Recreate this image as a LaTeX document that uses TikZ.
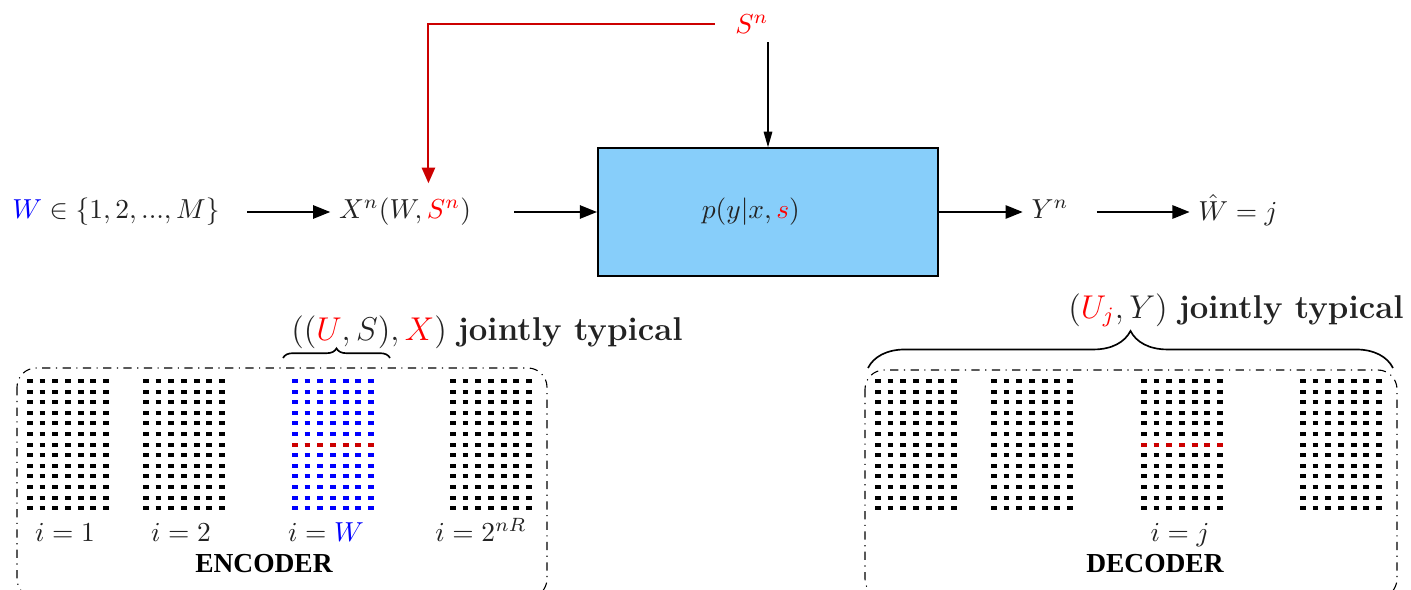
\documentclass[tikz,border=0pt]{standalone}
\usepackage{amsmath,amssymb}
\usepackage{fontspec}
\usepackage{xcolor}
\usepackage{tikz}
\usetikzlibrary{calc,arrows.meta,positioning,decorations.pathreplacing}
\newfontfamily\timesbf{Liberation Serif}
\definecolor{chanBlue}{RGB}{135,206,250}
\definecolor{cbBlue}{RGB}{0,0,255}
\definecolor{cbRed}{RGB}{204,0,0}
\definecolor{txtGray}{RGB}{35,35,35}

\tikzset{
  lbl/.style={text=txtGray, inner sep=3pt},
  rowlbl/.style={text=txtGray, text height=7.5pt, text depth=2.5pt, inner sep=3pt},
  flow/.style={-{Triangle[length=2.2mm,width=1.7mm]}, line width=0.75pt},
  sideflow/.style={-{Triangle[length=2mm,width=1.1mm]}, line width=0.5pt},
  stateflow/.style={-{Triangle[length=2mm,width=1.7mm]}, line width=0.7pt, cbRed},
  cbrow/.style={line width=1.5pt, dash pattern=on 0.074cm off 0.0885cm},
  coderbox/.style={dash dot, rounded corners=7pt, line width=0.4pt},
  typbrace/.style={decorate, line width=0.6pt},
}

% one codebook: 13 rows of 7 codewords
\newcommand{\cbgrid}[2]{%
  \foreach \row in {0,...,12}
    \draw[cbrow,#2] (#1,{381+\row*10.6}) -- ++(82,0);%
}

\begin{document}
\begin{tikzpicture}[x=0.0128cm,y=-0.0128cm]
    \useasboundingbox (0,0) rectangle (1411,590);

    % channel chain
    \node[rowlbl] (w) at (116,212) {$\textcolor{blue}{W} \in \{1,2,...,M\}$};
    \node[rowlbl] (xn) at (405,212) {$X^n(W,\textcolor{red}{S^n})$};
    \node[draw, line width=0.8pt, fill=chanBlue,
          minimum width=4.35cm, minimum height=1.63cm,
          label={[text=txtGray, xshift=-0.22cm]center:$p(y|x,\textcolor{red}{s})$}]
          (chan) at (768,212) {};
    \node[rowlbl] (yn) at (1050,212) {$Y^n$};
    \node[lbl] (what) at (1238,210) {$\hat{W}=j$};
    \node[lbl, text=red] (sn) at (752,24) {$S^n$};

    \draw[flow, shorten <=0.24cm] (w) -- (xn);
    \draw[flow, shorten <=0.44cm] (xn) -- (chan);
    \draw[flow] (chan) -- (yn);
    \draw[flow, shorten <=0.25cm] (yn) -- (what.west |- yn);

    % state
    \draw[stateflow, shorten <=0.15cm, shorten >=0.08cm] (sn.west) -| ([xshift=0.3cm]xn.north);
    \draw[sideflow] (sn.south -| chan.north) -- (chan.north);

    % encoder
    \draw[coderbox] (17,368) rectangle (547,598);
    \cbgrid{27}{black}
    \cbgrid{143}{black}
    \cbgrid{292}{cbBlue}
    \draw[cbrow,cbRed] (292,444.6) -- ++(82,0);
    \cbgrid{450}{black}

    \node[lbl, anchor=base] (e1) at (65,541) {$i=1$};
    \node[lbl, anchor=base] (e2) at (181,541) {$i=2$};
    \node[lbl, anchor=base] (ew) at (326,541) {$i=\textcolor{blue}{W}$};
    \node[lbl, anchor=base] (en) at (481,541) {$i=2^{nR}$};
    \node[anchor=base] (enc) at (264,572) {\timesbf\bfseries ENCODER};

    \draw[typbrace, decoration={brace, amplitude=3.5pt}] (283,358) -- (390,358);
    \node[lbl, anchor=base] (enctyp) at (487,340)
        {\large $((\textcolor{red}{U},S),\textcolor{red}{X})$ \textbf{jointly typical}};

    % decoder
    \draw[coderbox] (865,370) rectangle (1397,598);
    \cbgrid{875}{black}
    \cbgrid{991}{black}
    \cbgrid{1141}{black}
    \draw[cbrow,cbRed] (1141,444.6) -- ++(82,0);
    \cbgrid{1300}{black}

    \node[lbl, anchor=base] (dj) at (1180,541) {$i=j$};
    \node[anchor=base] (dec) at (1155,572) {\timesbf\bfseries DECODER};

    \draw[typbrace, decoration={brace, amplitude=13.5pt}] (868,368) -- (1393,368);
    \node[lbl, anchor=base] (dectyp) at (1236,318)
        {\large $(\textcolor{red}{U_j},Y)$ \textbf{jointly typical}};

\end{tikzpicture}
\end{document}
